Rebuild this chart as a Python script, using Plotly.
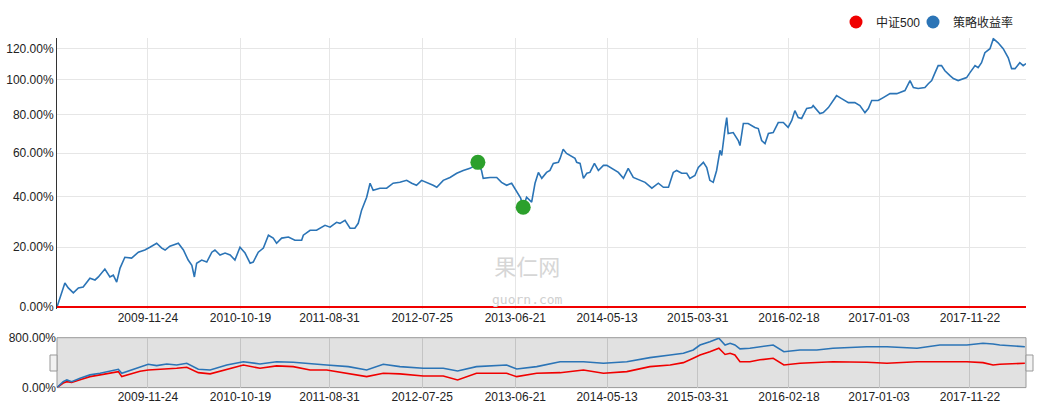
import plotly.graph_objects as go
import numpy as np

# ---------------- data ----------------
# main chart: strategy return relative to 中证500 (%), log-scaled net value axis
main_dates = [
    "2009-01-05","2009-01-16","2009-02-02","2009-02-14","2009-03-04","2009-03-22","2009-04-08","2009-05-02",
    "2009-05-20","2009-06-01","2009-06-24","2009-07-12","2009-07-24","2009-08-05","2009-08-17","2009-09-03",
    "2009-09-27","2009-10-21","2009-11-13","2009-12-01","2009-12-25","2010-01-12","2010-01-24","2010-02-10",
    "2010-03-12","2010-03-30","2010-04-16","2010-04-29","2010-05-08","2010-05-16","2010-06-03","2010-06-21",
    "2010-07-09","2010-07-20","2010-08-07","2010-08-25","2010-09-12","2010-09-29","2010-10-17","2010-11-04",
    "2010-11-22","2010-12-03","2010-12-21","2011-01-08","2011-01-26","2011-02-12","2011-02-24","2011-03-14",
    "2011-04-07","2011-04-30","2011-05-24","2011-05-30","2011-06-23","2011-07-16","2011-08-15","2011-09-02",
    "2011-09-25","2011-10-07","2011-10-25","2011-11-12","2011-11-29","2011-12-11","2011-12-23","2012-01-10",
    "2012-01-22","2012-02-02","2012-02-26","2012-03-21","2012-04-13","2012-05-07","2012-05-31","2012-06-18",
    "2012-07-05","2012-07-23","2012-08-10","2012-09-02","2012-09-15","2012-10-08","2012-11-01","2012-11-25",
    "2012-12-18","2013-01-11","2013-01-29","2013-02-08","2013-02-21","2013-02-27","2013-03-23","2013-04-16",
    "2013-05-03","2013-05-21","2013-06-08","2013-06-26","2013-07-10","2013-07-19","2013-07-31","2013-08-18",
    "2013-08-30","2013-09-11","2013-09-23","2013-10-10","2013-10-22","2013-11-03","2013-11-21","2013-11-27",
    "2013-12-08","2013-12-20","2014-01-01","2014-01-19","2014-01-25","2014-02-06","2014-02-18","2014-03-02",
    "2014-03-13","2014-03-29","2014-04-12","2014-04-30","2014-05-12","2014-05-29","2014-06-22","2014-07-10",
    "2014-07-27","2014-08-14","2014-09-07","2014-09-25","2014-10-19","2014-11-11","2014-11-29","2014-12-17",
    "2015-01-03","2015-01-15","2015-02-02","2015-02-20","2015-03-03","2015-03-21","2015-04-02","2015-04-20",
    "2015-05-02","2015-05-13","2015-05-25","2015-06-06","2015-06-18","2015-06-24","2015-07-06","2015-07-12",
    "2015-07-17","2015-08-04","2015-08-22","2015-08-28","2015-09-09","2015-09-26","2015-10-20","2015-11-01",
    "2015-11-13","2015-11-25","2015-12-07","2015-12-24","2016-01-11","2016-01-29","2016-02-15","2016-02-28",
    "2016-03-10","2016-03-22","2016-04-03","2016-04-21","2016-05-09","2016-05-14","2016-06-07","2016-06-19",
    "2016-07-07","2016-07-19","2016-08-05","2016-08-23","2016-09-16","2016-10-09","2016-10-27","2016-11-14",
    "2016-11-26","2016-12-08","2016-12-31","2017-01-18","2017-02-11","2017-03-07","2017-04-05","2017-04-23",
    "2017-05-05","2017-05-22","2017-06-15","2017-06-27","2017-07-09","2017-07-21","2017-08-01","2017-08-13",
    "2017-08-25","2017-09-12","2017-09-24","2017-10-11","2017-10-29","2017-11-10","2017-11-22","2017-12-10",
    "2017-12-21","2018-01-02","2018-01-14","2018-02-01","2018-02-13","2018-03-02","2018-03-20","2018-04-07",
    "2018-04-19","2018-05-01","2018-05-18","2018-05-30","2018-06-09",
]
strategy_excess = [
    0.0, 2.8, 7.6, 6.0, 4.4, 6.0, 6.3, 9.2,
    8.6, 9.6, 12.3, 9.6, 10.2, 7.9, 12.6, 16.4,
    16.1, 18.2, 19.0, 20.0, 21.5, 19.7, 19.0, 20.4,
    21.5, 19.0, 15.4, 13.6, 9.6, 14.3, 15.4, 14.7,
    18.2, 19.0, 17.2, 17.9, 17.2, 15.4, 20.0, 17.9,
    14.3, 14.7, 18.2, 19.7, 24.5, 23.4, 21.5, 23.4,
    23.8, 22.6, 22.6, 24.5, 26.4, 26.4, 28.3, 27.6,
    29.5, 29.1, 30.3, 27.2, 27.2, 29.1, 34.4, 39.8,
    45.9, 42.8, 43.7, 43.7, 45.9, 46.3, 47.2, 45.9,
    45.0, 47.2, 46.3, 45.0, 44.1, 47.2, 48.5, 50.4,
    51.7, 52.7, 54.1, 55.5, 51.7, 48.1, 48.5, 48.5,
    46.3, 45.0, 45.9, 41.9, 39.4, 35.6, 39.8, 37.7,
    45.9, 50.8, 48.1, 50.8, 51.7, 55.0, 55.5, 57.4,
    61.8, 59.8, 58.8, 57.4, 55.5, 55.0, 48.1, 50.4,
    50.8, 55.0, 51.7, 54.1, 54.1, 52.7, 50.8, 48.1,
    52.7, 48.5, 47.2, 46.3, 43.7, 45.9, 44.1, 44.1,
    50.8, 51.7, 50.4, 50.4, 48.1, 49.4, 53.1, 55.5,
    53.1, 47.2, 46.3, 51.7, 61.3, 58.8, 72.4, 78.3,
    69.8, 70.3, 66.2, 63.7, 75.1, 75.1, 73.0, 72.4,
    66.2, 64.7, 69.8, 70.3, 75.6, 75.6, 73.0, 76.7,
    82.1, 78.3, 77.8, 83.3, 83.8, 84.9, 80.5, 81.0,
    83.8, 86.6, 90.6, 88.9, 86.6, 86.6, 84.9, 81.0,
    83.3, 87.8, 87.8, 89.5, 91.8, 91.8, 93.6, 99.6,
    95.4, 94.8, 95.4, 97.7, 99.6, 104.5, 108.9, 108.9,
    105.7, 102.6, 100.8, 99.6, 100.8, 101.4, 104.5, 108.9,
    107.6, 110.8, 117.3, 120.0, 126.8, 124.0, 120.0, 114.0,
    107.0, 107.0, 110.8, 108.9, 110.2,
]
# 中证500 relative to itself (flat baseline)
bench_dates = ["2009-01-05", "2018-06-09"]
bench_relative = [0.0, 0.0]

# navigator: absolute returns (%)
nav_dates = [
    "2009-01-05","2009-01-27","2009-02-09","2009-02-26","2009-03-28","2009-05-02","2009-06-07","2009-07-12",
    "2009-08-11","2009-08-23","2009-09-21","2009-10-27","2009-11-25","2009-12-25","2010-01-30","2010-03-06",
    "2010-04-11","2010-05-22","2010-07-03","2010-08-31","2010-10-29","2010-12-27","2011-02-24","2011-04-24",
    "2011-06-23","2011-08-21","2011-11-06","2012-01-10","2012-03-09","2012-05-07","2012-07-29","2012-10-08",
    "2012-11-28","2013-02-03","2013-05-21","2013-06-26","2013-09-05","2013-11-27","2014-02-18","2014-04-30",
    "2014-07-22","2014-10-12","2014-12-23","2015-02-08","2015-03-15","2015-04-08","2015-05-13","2015-06-14",
    "2015-07-06","2015-07-24","2015-08-10","2015-08-28","2015-10-02","2015-11-07","2015-12-24","2016-01-31",
    "2016-03-28","2016-05-27","2016-07-23","2016-11-21","2017-01-31","2017-05-18","2017-08-07","2017-11-11",
    "2018-01-07","2018-02-12","2018-03-08","2018-06-05",
]
nav_strategy = [
    0, 30, 40, 30, 51, 75, 88, 108,
    124, 88, 111, 145, 180, 163, 183, 171,
    192, 124, 117, 171, 213, 183, 213, 206,
    192, 171, 152, 117, 180, 152, 134, 134,
    108, 152, 171, 127, 152, 213, 213, 192,
    213, 274, 320, 353, 424, 553, 655, 776,
    553, 603, 553, 450, 465, 506, 553, 386,
    424, 424, 465, 506, 506, 465, 553, 553,
    603, 580, 553, 506,
]
nav_index = [
    0, 22, 30, 25, 42, 62, 75, 92,
    102, 62, 80, 105, 117, 120, 124, 135,
    145, 93, 83, 124, 171, 134, 160, 152,
    117, 117, 88, 62, 88, 83, 67, 67,
    40, 88, 88, 62, 88, 93, 117, 88,
    102, 152, 171, 200, 265, 320, 386, 465,
    330, 353, 320, 213, 213, 240, 264, 171,
    192, 200, 213, 206, 192, 213, 213, 213,
    200, 171, 180, 192,
]

tick_dates = ["2009-11-24", "2010-10-19", "2011-08-31", "2012-07-25", "2013-06-21",
              "2014-05-13", "2015-03-31", "2016-02-18", "2017-01-03", "2017-11-22"]
main_ytick_pct = [0, 20, 40, 60, 80, 100, 120]
nav_ytick_pct = [0, 800]

series_names = ["中证500", "策略收益率"]

# ---------------- styling ----------------
BLUE = "#2b74b6"
RED = "#f00000"
GREEN = "#2ca02c"
FONT = "Liberation Sans, Arial, Noto Sans CJK SC, sans-serif"
W, H = 1046, 416
L_M, R_M = 57, 20
main_top_px, main_bot_px = 37.7, 308.5
nav_top_px, nav_bot_px = 337.7, 387.6
x_range = [main_dates[0], main_dates[-1]]


def py(px):
    return (H - px) / H


def px_x(px):
    return (px - L_M) / (W - L_M - R_M)


fig = go.Figure()

main_net = [1 + v / 100 for v in strategy_excess]
fig.add_trace(go.Scatter(x=main_dates, y=main_net, mode="lines",
                         line=dict(color=BLUE, width=1.6), showlegend=False,
                         hoverinfo="skip", xaxis="x", yaxis="y"))
fig.add_trace(go.Scatter(x=bench_dates, y=[1 + v / 100 for v in bench_relative], mode="lines",
                         line=dict(color=RED, width=2), showlegend=False,
                         hoverinfo="skip", xaxis="x", yaxis="y"))

# max drawdown markers (computed from the series)
arr = np.array(main_net)
runmax = np.maximum.accumulate(arr)
dd = arr / runmax - 1
trough = int(np.argmin(dd))
peak = int(np.argmax(arr[:trough + 1]))
fig.add_trace(go.Scatter(x=[main_dates[peak], main_dates[trough]],
                         y=[main_net[peak], main_net[trough]], mode="markers",
                         marker=dict(color=GREEN, size=15), showlegend=False,
                         hoverinfo="skip", xaxis="x", yaxis="y"))

# navigator
fig.add_trace(go.Scatter(x=nav_dates, y=[1 + v / 100 for v in nav_index], mode="lines",
                         line=dict(color=RED, width=1.6), showlegend=False,
                         hoverinfo="skip", xaxis="x2", yaxis="y2"))
fig.add_trace(go.Scatter(x=nav_dates, y=[1 + v / 100 for v in nav_strategy], mode="lines",
                         line=dict(color=BLUE, width=1.6), showlegend=False,
                         hoverinfo="skip", xaxis="x2", yaxis="y2"))

# legend entries (two independent legends so each can be placed like the reference)
fig.add_trace(go.Scatter(x=[None], y=[None], mode="markers", name=series_names[0],
                         marker=dict(color=RED, size=13), xaxis="x", yaxis="y", legend="legend"))
fig.add_trace(go.Scatter(x=[None], y=[None], mode="markers", name=series_names[1],
                         marker=dict(color=BLUE, size=13), xaxis="x", yaxis="y", legend="legend2"))

main_tick_y = [1 + p / 100 for p in main_ytick_pct]
main_tick_text = ["%.2f%%" % p for p in main_ytick_pct]
log_top = np.log10(1 + 127.5 / 100)
log_bot = -1.5 / 756.4

legend_common = dict(orientation="h", xanchor="left", yanchor="middle",
                     font=dict(size=12, color="#222"), itemwidth=30,
                     bgcolor="rgba(0,0,0,0)", borderwidth=0)

fig.update_layout(
    width=W, height=H,
    margin=dict(l=L_M, r=R_M, t=0, b=0, autoexpand=False),
    paper_bgcolor="white", plot_bgcolor="white",
    font=dict(family=FONT, size=12, color="#222"),
    xaxis=dict(domain=[0, 1], type="date", range=x_range, anchor="y", automargin=False,
               tickvals=tick_dates, ticktext=tick_dates, showgrid=True,
               gridcolor="#e6e6e6", gridwidth=1, zeroline=False, showline=False,
               ticks="", tickfont=dict(size=12, color="#222")),
    yaxis=dict(domain=[py(main_bot_px), py(main_top_px)], type="log", anchor="x", automargin=False,
               range=[log_bot, log_top], tickvals=main_tick_y, ticktext=main_tick_text,
               showgrid=True, gridcolor="#e6e6e6", zeroline=False,
               showline=True, linecolor="#333", linewidth=1, ticks="",
               tickfont=dict(size=12, color="#222")),
    xaxis2=dict(domain=[0, 1], type="date", range=x_range, anchor="y2", automargin=False,
                tickvals=tick_dates, ticktext=tick_dates, showgrid=True,
                gridcolor="#c4c4c4", zeroline=False, showline=False, ticks="",
                tickfont=dict(size=12, color="#222")),
    yaxis2=dict(domain=[py(nav_bot_px), py(nav_top_px)], type="log", anchor="x2", automargin=False,
                range=[0, np.log10(9)], tickvals=[1 + p / 100 for p in nav_ytick_pct],
                ticktext=["%.2f%%" % p for p in nav_ytick_pct], showgrid=False,
                zeroline=False, showline=False, ticks="",
                tickfont=dict(size=12, color="#222")),
    legend=dict(x=px_x(836), y=py(22), **legend_common),
    legend2=dict(x=px_x(913), y=py(22), **legend_common),
    showlegend=True,
)

# navigator background
fig.add_shape(type="rect", xref="x2 domain", yref="y2 domain", x0=0, x1=1, y0=0, y1=1,
              fillcolor="#e1e1e1", line=dict(color="#999", width=1), layer="below")
# navigator handles
for x0, x1 in [(50, 57), (1026, 1033)]:
    fig.add_shape(type="rect", xref="paper", yref="paper",
                  x0=px_x(x0), x1=px_x(x1), y0=py(371), y1=py(355),
                  fillcolor="#f2f2f2", line=dict(color="#999", width=1), layer="above")

# watermark (one text block, two lines)
fig.add_annotation(
    text="果仁网<br><span style='font-family:DejaVu Sans Mono;font-size:13px;color:#cfcfcf'>guorn.com</span>",
    xref="paper", yref="paper", x=px_x(527), y=py(278), yanchor="middle", align="center",
    showarrow=False, font=dict(family="Noto Sans CJK SC", size=22, color="#d6d6d6"))

fig.write_html("out.html", config={"displayModeBar": False},
               post_script="document.body.style.margin='0px';")
